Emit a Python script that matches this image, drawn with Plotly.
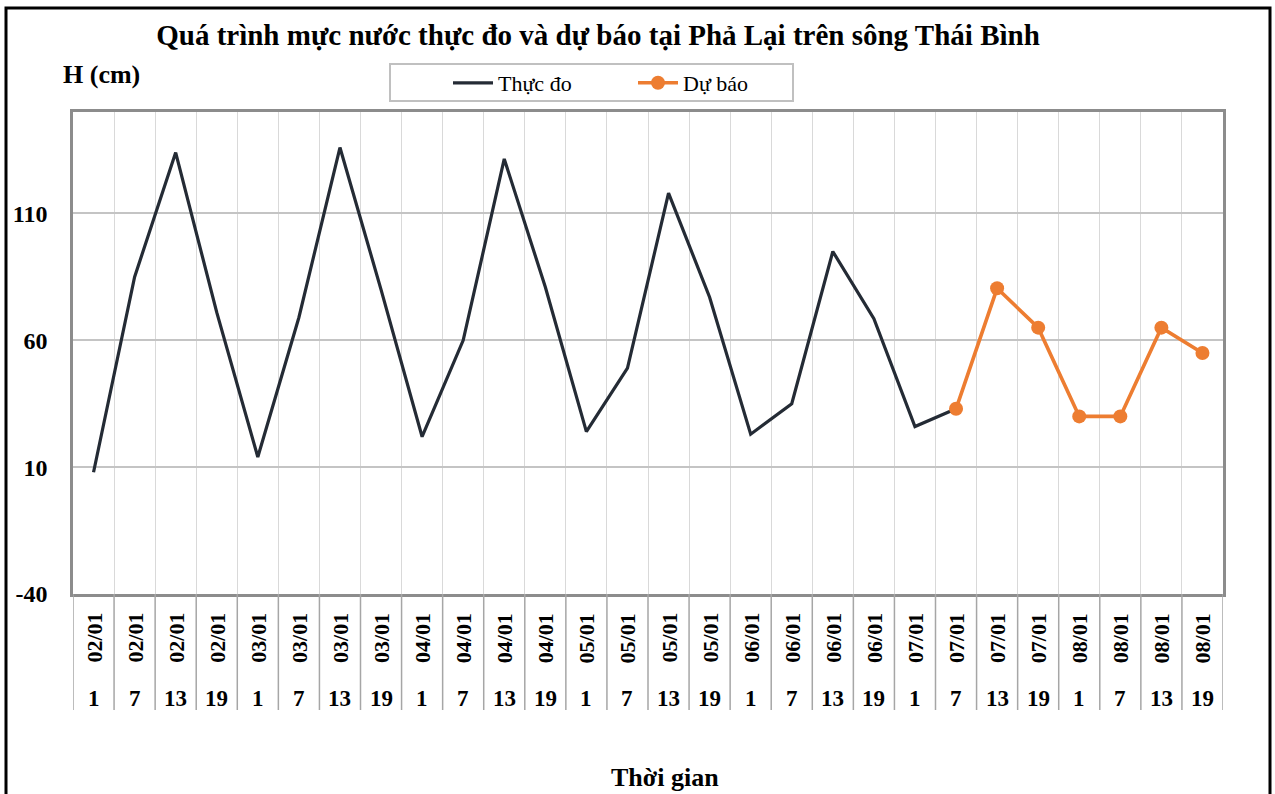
import plotly.graph_objects as go

# ---------------- data ----------------
dates = ["02/01", "02/01", "02/01", "02/01", "03/01", "03/01", "03/01", "03/01",
         "04/01", "04/01", "04/01", "04/01", "05/01", "05/01", "05/01", "05/01",
         "06/01", "06/01", "06/01", "06/01", "07/01", "07/01", "07/01", "07/01",
         "08/01", "08/01", "08/01", "08/01"]
hours = ["1", "7", "13", "19"] * 7

observed = [8, 85, 134, 71, 14, 69, 136, 80,
            22, 60, 131.5, 81, 24, 49, 118, 77,
            23, 35, 95, 68.5, 26, 33]
forecast_start = 21
forecast = [33, 80.5, 65, 30, 30, 65, 55]

y_ticks = [-40, 10, 60, 110]
y_tick_text = ["-40", "10", "60", "110"]
y_range = [-40, 150]

# ---------------- layout geometry ----------------
W, H = 1275, 794
ML, MR, MT, MB = 73, 52, 112, 200
PW, PH = W - ML - MR, H - MT - MB


def px_x(px):
    return (px - ML) / PW


def px_y(py):
    return (H - MB - py) / PH


FONT = "Liberation Serif"
n = len(dates)
idx = list(range(n))

fig = go.Figure()
fig.add_trace(go.Scatter(
    x=idx[:len(observed)], y=observed, mode="lines", name="Thực đo",
    line=dict(color="#242b35", width=3.2),
))
fig.add_trace(go.Scatter(
    x=idx[forecast_start:forecast_start + len(forecast)], y=forecast,
    mode="lines+markers", name="Dự báo",
    line=dict(color="#ED7D31", width=3.6),
    marker=dict(color="#ED7D31", size=14),
))

annotations = []
shapes = []
for i in range(n):
    annotations.append(dict(
        x=i, y=px_y(638), xref="x", yref="paper", text=dates[i],
        textangle=-90, showarrow=False, xanchor="center", yanchor="middle",
        font=dict(family=FONT, size=22, color="black", weight="bold"),
    ))
    annotations.append(dict(
        x=i, y=px_y(698), xref="x", yref="paper", text=hours[i],
        showarrow=False, xanchor="center", yanchor="middle",
        font=dict(family=FONT, size=23, color="black", weight="bold"),
    ))
for k in range(n + 1):
    shapes.append(dict(
        type="line", xref="x", yref="paper", x0=k - 0.5, x1=k - 0.5,
        y0=0, y1=px_y(710), line=dict(color="#a6a6a6", width=1.5),
    ))

annotations.append(dict(
    x=px_x(101), y=px_y(74), xref="paper", yref="paper", text="H (cm)",
    showarrow=False, xanchor="center", yanchor="middle",
    font=dict(family=FONT, size=26, color="black", weight="bold"),
))
annotations.append(dict(
    x=px_x(665), y=px_y(777), xref="paper", yref="paper", text="Thời gian",
    showarrow=False, xanchor="center", yanchor="middle",
    font=dict(family=FONT, size=26, color="black", weight="bold"),
))

# legend box
shapes.append(dict(
    type="rect", xref="paper", yref="paper",
    x0=px_x(390), x1=px_x(793), y0=px_y(101), y1=px_y(64),
    line=dict(color="#c0c0c0", width=2), fillcolor="white", layer="below",
))
# outer chart border
shapes.append(dict(
    type="rect", xref="paper", yref="paper",
    x0=px_x(6), x1=px_x(1270), y0=px_y(805), y1=px_y(8),
    line=dict(color="black", width=3), layer="above",
))

fig.update_layout(
    width=W, height=H,
    margin=dict(l=ML, r=MR, t=MT, b=MB, autoexpand=False),
    paper_bgcolor="white", plot_bgcolor="white",
    title=dict(
        text="Quá trình mực nước thực đo và dự báo tại Phả Lại trên sông Thái Bình",
        x=598 / W, xref="container", xanchor="center",
        y=1 - 35 / H, yref="container", yanchor="middle",
        font=dict(family=FONT, size=29, color="black", weight="bold"),
    ),
    legend=dict(
        orientation="h", xref="container", yref="container",
        x=448 / W, y=1 - 83 / H, xanchor="left", yanchor="middle",
        borderwidth=0, bgcolor="rgba(0,0,0,0)",
        font=dict(family=FONT, size=22, color="black"),
        entrywidth=130, itemwidth=40,
    ),
    xaxis=dict(
        range=[-0.5, n - 0.5], tickvals=[k - 0.5 for k in range(1, n)],
        showticklabels=False, ticks="", showgrid=True,
        gridcolor="#d9d9d9", gridwidth=1.3, zeroline=False,
        showline=True, linecolor="#8c8c8c", linewidth=2.5, mirror=True,
    ),
    yaxis=dict(
        range=y_range, tickvals=y_ticks, ticktext=y_tick_text, ticks="",
        ticklabelstandoff=18,
        showgrid=True, gridcolor="#c4c4c4", gridwidth=1.5, zeroline=False,
        showline=True, linecolor="#8c8c8c", linewidth=2.5, mirror=True,
        tickfont=dict(family=FONT, size=24, color="black", weight="bold"),
    ),
    annotations=annotations, shapes=shapes,
    showlegend=True,
)

fig.write_html("out.html", config={"displayModeBar": False},
               post_script="document.body.style.margin='0';")
